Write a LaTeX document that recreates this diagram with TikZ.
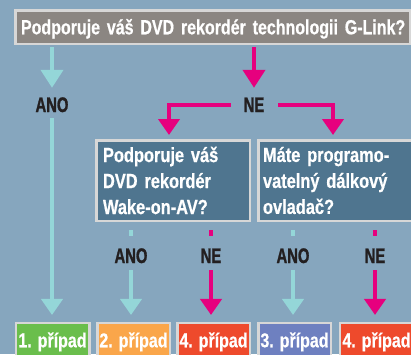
\documentclass[tikz,border=0pt]{standalone}
\usepackage{fontspec}
\setmainfont{Liberation Sans}
\newfontfamily\condw[FakeStretch=0.80,FakeBold=0.6]{Liberation Sans Bold}
\newfontfamily\condt[FakeStretch=0.78,FakeBold=0.6]{Liberation Sans Bold}
\newfontfamily\condl[FakeStretch=0.705,FakeBold=1.2]{Liberation Sans Bold}
\usetikzlibrary{arrows.meta}
\definecolor{bgc}{RGB}{134,166,190}
\definecolor{topg}{RGB}{139,134,130}
\definecolor{midb}{RGB}{79,117,143}
\definecolor{bord}{RGB}{215,215,215}
\definecolor{cyc}{RGB}{148,214,216}
\definecolor{pkc}{RGB}{230,0,126}
\definecolor{grc}{RGB}{106,190,76}
\definecolor{orc}{RGB}{250,166,74}
\definecolor{rdc}{RGB}{238,74,44}
\definecolor{puc}{RGB}{110,128,192}
\definecolor{labc}{RGB}{35,31,32}
\tikzset{
  wbox/.style={draw=bord, line width=2.5pt, text=white, align=left,
    font=\condw\fontsize{20.5}{26}\selectfont},
  topbox/.style={wbox, fill=topg, minimum width=394.5pt, minimum height=33.5pt,
    inner xsep=5.75pt, inner ysep=0pt, text width=383pt, text height=14.6pt, text depth=0pt,
    font=\condt\fontsize{20.5}{26}\selectfont},
  midbox/.style={wbox, fill=midb, minimum width=153.5pt, minimum height=80.5pt,
    inner ysep=0pt},
  casebox/.style={draw=bord, line width=2.5pt, text=white, minimum height=34.75pt,
    inner sep=0pt, text height=14.3pt, text depth=1.0pt,
    font=\condw\fontsize{20}{22}\selectfont},
  lab/.style={text=labc, font=\condl\fontsize{21}{24}\selectfont, inner sep=0pt,
    text height=15pt, text depth=0pt},
  cyl/.style={draw=cyc, line width=4pt},
  pkl/.style={draw=pkc, line width=4pt},
  tipa/.style={-{Triangle[width=22pt,length=18pt]}},
  tipb/.style={-{Triangle[width=21pt,length=16pt]}}
}
\begin{document}
\begin{tikzpicture}[x=1pt,y=-1pt]
\path[use as bounding box, fill=bgc] (0,0) rectangle (411,354);
\clip (0,0) rectangle (411,354);
% top question
\node[topbox] (q1) at (212.5,27) {\mbox{Podporuje váš DVD rekordér technologii G-Link?}};
% labels
\node[lab] (ano1) at (52,104.5) {ANO};
\node[lab] (ne1) at (254,104.5) {NE};
% middle questions
\node[midbox, inner xsep=6.75pt, text width=140pt] (m1) at (173,180.5)
  {Podporuje váš\\DVD rekordér\\Wake-on-AV?};
\node[midbox, inner xsep=4.75pt, text width=144pt] (m2) at (335,180.5)
  {Máte programo-\\vatelný dálkový\\ovladač?};
% lower labels
\node[lab] (ano2) at (131,255.5) {ANO};
\node[lab] (ne2) at (211,255.5) {NE};
\node[lab] (ano3) at (293,255.5) {ANO};
\node[lab] (ne3) at (375,255.5) {NE};
% case boxes
\node[casebox, fill=grc, minimum width=73.5pt] (b1) at (52.5,340.6) {1. případ};
\node[casebox, fill=orc, minimum width=72.5pt] (b2) at (133.5,340.6) {2. případ};
\node[casebox, fill=rdc, minimum width=72.5pt] (b3) at (213.5,340.6) {4. případ};
\node[casebox, fill=puc, minimum width=72.5pt] (b4) at (294.5,340.6) {3. případ};
\node[casebox, fill=rdc, minimum width=73.5pt] (b5) at (376.5,340.6) {4. případ};
% top connectors
\draw[cyl, tipa, shorten <=2pt, shorten >=9pt] (q1.south -| ano1) -- (ano1.north);
\draw[pkl, tipa, shorten <=2pt, shorten >=9pt] (q1.south -| ne1) -- (ne1.north);
\draw[cyl, tipb, shorten <=6pt, shorten >=7pt] (ano1.south) -- (b1.north -| ano1);
% NE branches
\draw[pkl, tipb, shorten >=4pt] ([xshift=-13pt]ne1.west) -| ([xshift=-4pt]m1.north);
\draw[pkl, tipb, shorten >=4pt] ([xshift=14pt]ne1.east) -| ([xshift=-2pt]m2.north);
% lower connectors
\draw[cyl, shorten <=8pt, shorten >=12pt] (m1.south -| ano2) -- (ano2.north);
\draw[cyl, tipb, shorten <=7pt, shorten >=7pt] (ano2.south) -- (b2.north -| ano2);
\draw[pkl, shorten <=8pt, shorten >=12pt] (m1.south -| ne2) -- (ne2.north);
\draw[pkl, tipb, shorten <=7pt, shorten >=7pt] (ne2.south) -- (b3.north -| ne2);
\draw[cyl, shorten <=8pt, shorten >=12pt] (m2.south -| ano3) -- (ano3.north);
\draw[cyl, tipb, shorten <=7pt, shorten >=7pt] (ano3.south) -- (b4.north -| ano3);
\draw[pkl, shorten <=8pt, shorten >=12pt] (m2.south -| ne3) -- (ne3.north);
\draw[pkl, tipb, shorten <=7pt, shorten >=7pt] (ne3.south) -- (b5.north -| ne3);
\end{tikzpicture}
\end{document}
